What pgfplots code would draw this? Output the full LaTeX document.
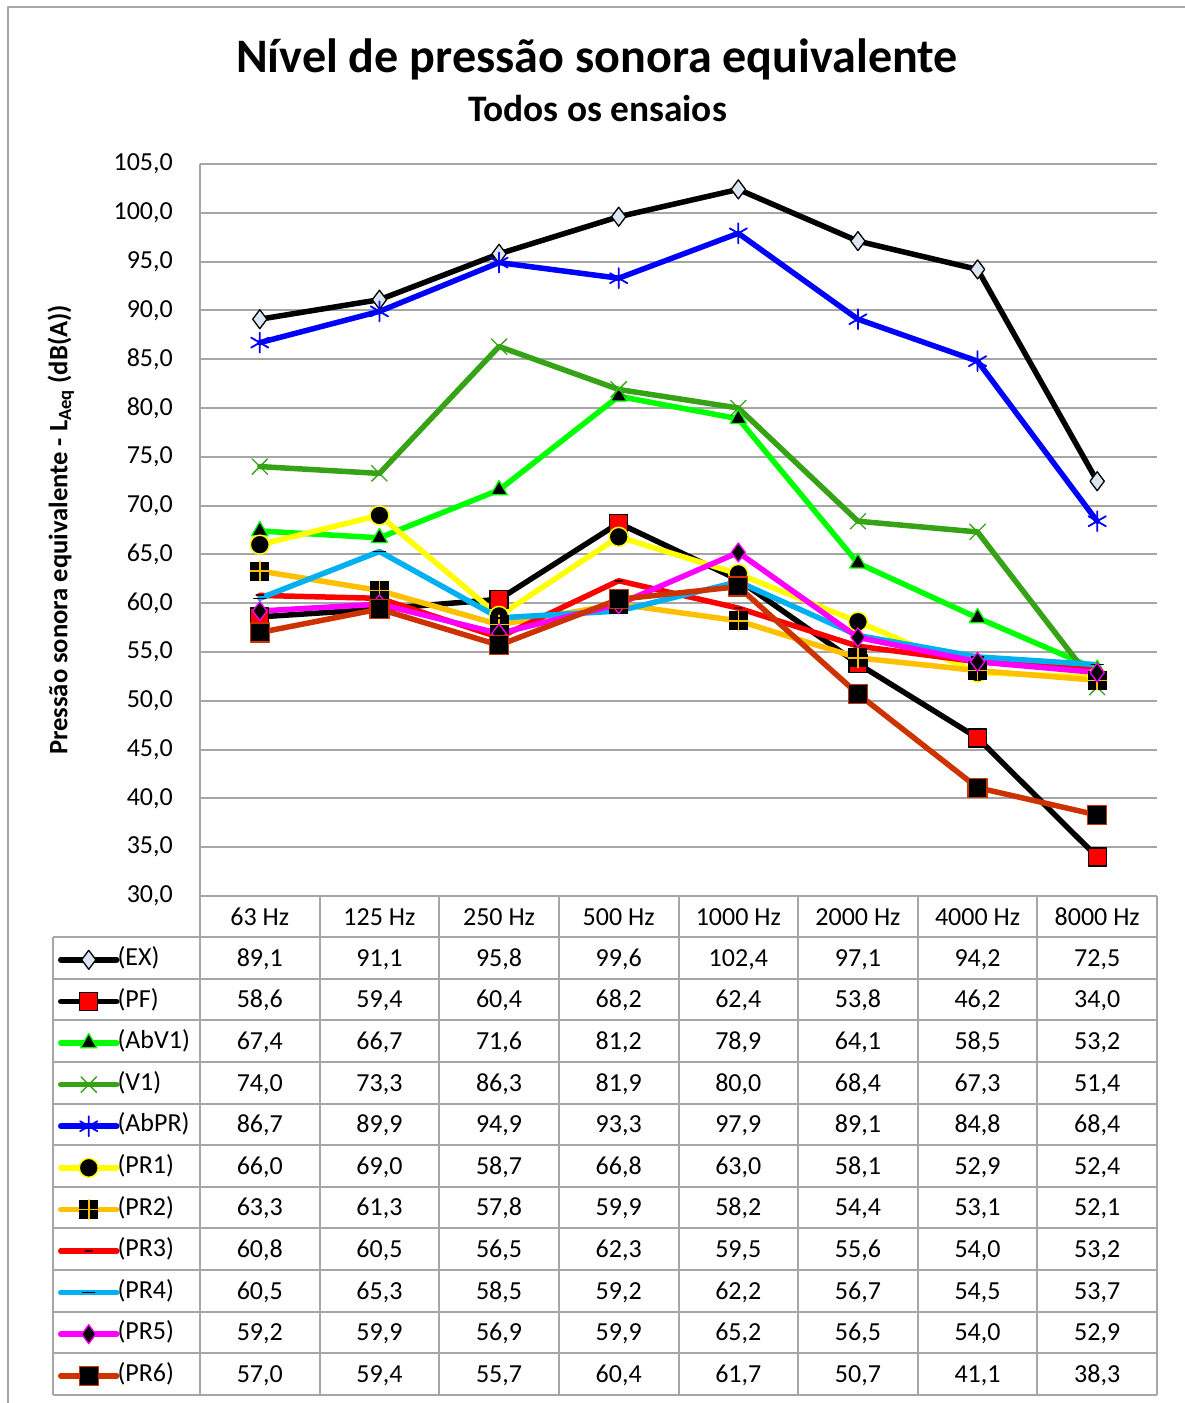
\documentclass[border=0pt]{standalone}
\usepackage{fontspec}
\setmainfont{Carlito}
\usepackage{pgfplots}
\usepackage{pgfplotstable}
\pgfplotsset{compat=1.18}

\definecolor{gridgray}{HTML}{A6A6A6}
\definecolor{exfill}{HTML}{DCE6F2}
\definecolor{abv}{HTML}{00FF00}
\definecolor{vgreen}{HTML}{36A317}
\definecolor{abpr}{HTML}{0000FF}
\definecolor{pr1}{HTML}{FFFF00}
\definecolor{pr2}{HTML}{FFC000}
\definecolor{pr3}{HTML}{FF0000}
\definecolor{pr4}{HTML}{00B0F0}
\definecolor{pr5}{HTML}{FF00FF}
\definecolor{pr6}{HTML}{CC3300}

\pgfdeclareplotmark{sqplus}{%
  \pgfpathrectangle{\pgfqpoint{-\pgfplotmarksize}{-\pgfplotmarksize}}{\pgfqpoint{2\pgfplotmarksize}{2\pgfplotmarksize}}%
  \pgfsetfillcolor{black}\pgfusepathqfill
  \pgfsetstrokecolor{pr2}\pgfsetlinewidth{1.6pt}%
  \pgfpathmoveto{\pgfqpoint{-\pgfplotmarksize}{0pt}}\pgfpathlineto{\pgfqpoint{\pgfplotmarksize}{0pt}}%
  \pgfpathmoveto{\pgfqpoint{0pt}{-\pgfplotmarksize}}\pgfpathlineto{\pgfqpoint{0pt}{\pgfplotmarksize}}%
  \pgfusepathqstroke}

\newcommand{\tabfont}{\fontsize{26}{31}\selectfont}

\pgfplotstableread{
x EX PF AbV1 V1 AbPR PR1 PR2 PR3 PR4 PR5 PR6
0 89.1 58.6 67.4 74.0 86.7 66.0 63.3 60.8 60.5 59.2 57.0
1 91.1 59.4 66.7 73.3 89.9 69.0 61.3 60.5 65.3 59.9 59.4
2 95.8 60.4 71.6 86.3 94.9 58.7 57.8 56.5 58.5 56.9 55.7
3 99.6 68.2 81.2 81.9 93.3 66.8 59.9 62.3 59.2 59.9 60.4
4 102.4 62.4 78.9 80.0 97.9 63.0 58.2 59.5 62.2 65.2 61.7
5 97.1 53.8 64.1 68.4 89.1 58.1 54.4 55.6 56.7 56.5 50.7
6 94.2 46.2 58.5 67.3 84.8 52.9 53.1 54.0 54.5 54.0 41.1
7 72.5 34.0 53.2 51.4 68.4 52.4 52.1 53.2 53.7 52.9 38.3
}\data

\begin{document}
\begin{tikzpicture}[line join=round]
\path[use as bounding box] (0pt,0pt) rectangle (1184pt,-1403pt);
\draw[gridgray, line width=2pt] (1200pt,-7pt) -- (8pt,-7pt) -- (8pt,-1420pt);

\begin{axis}[
  at={(200pt,-896pt)}, anchor=south west,
  scale only axis, width=957pt, height=732pt,
  xmin=-0.5, xmax=7.5, ymin=30, ymax=105,
  ytick={30,35,...,105},
  xtick={0,...,7},
  xticklabels={63 Hz,125 Hz,250 Hz,500 Hz,1000 Hz,2000 Hz,4000 Hz,8000 Hz},
  major tick length=0pt,
  axis x line*=bottom, axis y line*=left,
  axis line style={gridgray, line width=2pt, -},
  ymajorgrids, grid style={gridgray, line width=2pt},
  clip=false,
  tick label style={font=\tabfont},
  yticklabel style={/pgf/number format/.cd, fixed, fixed zerofill, precision=1, use comma, assume math mode=true, /tikz/.cd, anchor=east, inner sep=0pt, xshift=-27pt},
  xticklabel style={anchor=base, inner sep=0pt, yshift=-29pt},
  ylabel={\bfseries Pressão sonora equivalente - L\textsubscript{Aeq} (dB(A))},
  ylabel style={font=\fontsize{26.6}{31}\selectfont, at={(axis description cs:-0.1453,0.5)}, anchor=center, rotate=0},
  title={\bfseries Nível de pressão sonora equivalente},
  title style={font=\fontsize{48.1}{56}\selectfont, at={(axis description cs:0.4148,1.1175)}, anchor=base},
  every axis plot/.append style={line width=5.5pt, line cap=round},
  legend cell align=left,
  legend image code/.code={%
    \draw[#1, mark repeat=2, mark phase=2, yshift=-2pt] plot coordinates {(0pt,0pt) (28pt,0pt) (56pt,0pt)};},
  legend style={at={(axis description cs:-0.14838,-0.05601)}, anchor=north west,
    draw=none, fill=none, inner sep=0pt, outer sep=0pt, row sep=0pt, column sep=-2pt,
    nodes={inner sep=0pt, text height=28.4pt, text depth=13.2pt, font=\tabfont}},
]
\addplot[black, mark=diamond*, mark size=9.5pt, mark options={fill=exfill, draw=black, line width=1.3pt}] table[x=x,y=EX]{\data};
\addlegendentry{(EX)}
\addplot[black, mark=square*, mark size=9pt, mark options={fill=red, draw=black, line width=1.3pt}] table[x=x,y=PF]{\data};
\addlegendentry{(PF)}
\addplot[abv, mark=triangle*, mark size=9.5pt, mark options={fill=black, draw=abv, line width=1.3pt}] table[x=x,y=AbV1]{\data};
\addlegendentry{(AbV1)}
\addplot[vgreen, mark=x, mark size=11pt, mark options={draw=vgreen, line width=1.3pt}] table[x=x,y=V1]{\data};
\addlegendentry{(V1)}
\addplot[abpr, mark=asterisk, mark size=10pt, mark options={draw=abpr, line width=1.8pt}] table[x=x,y=AbPR]{\data};
\addlegendentry{(AbPR)}
\addplot[pr1, mark=*, mark size=9.5pt, mark options={fill=black, draw=pr1, line width=1.5pt}] table[x=x,y=PR1]{\data};
\addlegendentry{(PR1)}
\addplot[pr2, mark=sqplus, mark size=9.5pt] table[x=x,y=PR2]{\data};
\addlegendentry{(PR2)}
\addplot[pr3, mark=-, mark size=3.5pt, mark options={draw=black!70!red, line width=2pt}] table[x=x,y=PR3]{\data};
\addlegendentry{(PR3)}
\addplot[pr4, mark=-, mark size=6pt, mark options={draw=black, line width=1.5pt}] table[x=x,y=PR4]{\data};
\addlegendentry{(PR4)}
\addplot[pr5, mark=diamond*, mark size=9.5pt, mark options={fill=black, draw=pr5, line width=1.3pt}] table[x=x,y=PR5]{\data};
\addlegendentry{(PR5)}
\addplot[pr6, mark=square*, mark size=9.5pt, mark options={fill=black, draw=pr6, line width=1.3pt}] table[x=x,y=PR6]{\data};
\addlegendentry{(PR6)}
\end{axis}

\node[anchor=base, font=\fontsize{37.4}{44}\selectfont\bfseries] at (597.5pt,-121pt) {Todos os ensaios};

% data table grid
\draw[gridgray, line width=2pt] (200pt,-896pt) -- (1157pt,-896pt);
\foreach \k in {0,...,11} {
  \draw[gridgray, line width=2pt] (53pt,{-937pt-41.636pt*\k}) -- (1157pt,{-937pt-41.636pt*\k});
}
\draw[gridgray, line width=2pt] (53pt,-937pt) -- (53pt,-1395pt);
\foreach \j in {0,...,8} {
  \draw[gridgray, line width=2pt] ({200pt+119.625pt*\j},-896pt) -- ({200pt+119.625pt*\j},-1395pt);
}
\foreach \name [count=\r from 0] in {EX,PF,AbV1,V1,AbPR,PR1,PR2,PR3,PR4,PR5,PR6} {
  \foreach \c in {0,...,7} {
    \pgfplotstablegetelem{\c}{\name}\of\data
    \node[anchor=base, inner sep=0pt, font=\tabfont] at ({259.8pt+119.625pt*\c},{-(957.8pt+41.636pt*\r+8.3pt)})
      {\pgfmathprintnumber[fixed, fixed zerofill, precision=1, use comma, assume math mode=true]{\pgfplotsretval}};
  }
}
\end{tikzpicture}
\end{document}
